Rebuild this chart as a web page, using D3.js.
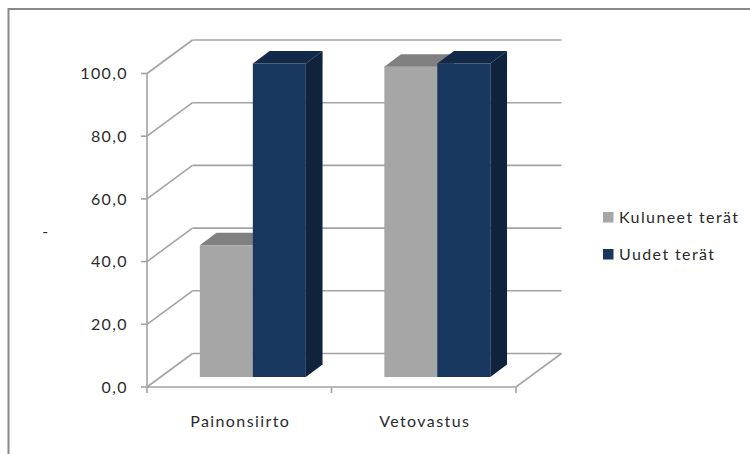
<!DOCTYPE html>
<html>
<head>
<meta charset="utf-8">
<script src="https://cdn.jsdelivr.net/npm/d3@7"></script>
<style>
  html, body { margin: 0; padding: 0; background: #fff; }
  svg { display: block; }
  text { font-family: Lato, "Open Sans", sans-serif; fill: #2b2b2b; font-size: 16px; letter-spacing: 1.4px; }
</style>
</head>
<body>
<svg id="chart" width="750" height="454"></svg>
<script>
// Chart data
const categories = ["Painonsiirto", "Vetovastus"];
const seriesNames = ["Kuluneet terät", "Uudet terät"];
const kuluneet = [42, 99];
const uudet = [100, 100];
const yTicks = [0, 20, 40, 60, 80, 100];

const seriesValues = [kuluneet, uudet];

// Colours per series: front, top, side faces
const palette = [
  { front: "#a6a6a6", top: "#808080", side: "#7a7a7a" },
  { front: "#17375e", top: "#12294a", side: "#10233d" }
];

const svg = d3.select("#chart");

// Outer frame
svg.append("path")
  .attr("d", "M8.5,454 L8.5,9 L750,9")
  .attr("fill", "none")
  .attr("stroke", "#888")
  .attr("stroke-width", 2);

// 3D projection: depth offset of the back wall
const DX = 45.5, DY = 33.5;
const x0 = 147, x1 = 516;

const y = d3.scaleLinear().domain([0, 100]).range([387, 73.5]);
const x = d3.scaleBand().domain(categories).range([x0, x1]);
const groupWidth = 106;
const xs = d3.scaleBand().domain(d3.range(seriesNames.length)).range([0, groupWidth]);

const gridColor = "#a3a3a3";
const g = svg.append("g");

// Back wall gridlines
g.selectAll("line.grid").data(yTicks).join("line")
  .attr("class", "grid")
  .attr("x1", x0 + DX).attr("x2", x1 + DX)
  .attr("y1", d => y(d) - DY).attr("y2", d => y(d) - DY)
  .attr("stroke", gridColor).attr("stroke-width", 1.6);

// Side wall diagonals
g.selectAll("line.side").data(yTicks).join("line")
  .attr("class", "side")
  .attr("x1", x0).attr("x2", x0 + DX)
  .attr("y1", d => y(d)).attr("y2", d => y(d) - DY)
  .attr("stroke", gridColor).attr("stroke-width", 1.6);

// Floor: front edge and right diagonal
g.append("path")
  .attr("d", `M${x0},${y(0)} L${x1},${y(0)} L${x1 + DX},${y(0) - DY}`)
  .attr("fill", "none").attr("stroke", gridColor).attr("stroke-width", 1.6);

// Value axis line and ticks
g.append("line")
  .attr("x1", x0).attr("x2", x0).attr("y1", y(100)).attr("y2", y(0))
  .attr("stroke", gridColor).attr("stroke-width", 1.6);
g.selectAll("line.ytick").data(yTicks).join("line")
  .attr("class", "ytick")
  .attr("x1", x0 - 6).attr("x2", x0)
  .attr("y1", d => y(d)).attr("y2", d => y(d))
  .attr("stroke", gridColor).attr("stroke-width", 1.6);

// Category ticks
const catTicks = [x0].concat(categories.map(c => x(c) + x.bandwidth()));
g.selectAll("line.xtick").data(catTicks).join("line")
  .attr("class", "xtick")
  .attr("x1", d => d).attr("x2", d => d)
  .attr("y1", y(0)).attr("y2", y(0) + 6)
  .attr("stroke", gridColor).attr("stroke-width", 1.6);

// Value labels
const fmt = v => d3.format(".1f")(v).replace(".", ",");
g.selectAll("text.ylab").data(yTicks).join("text")
  .attr("class", "ylab")
  .attr("x", 128).attr("y", d => y(d))
  .attr("dy", "0.35em")
  .attr("text-anchor", "end")
  .text(fmt);

// Value axis title
g.append("text")
  .attr("x", 46).attr("y", 231).attr("dy", "0.35em")
  .attr("text-anchor", "middle")
  .text("-");

// Category labels
g.selectAll("text.xlab").data(categories).join("text")
  .attr("class", "xlab")
  .attr("x", d => x(d) + x.bandwidth() / 2 + 1)
  .attr("y", 421).attr("dy", "0.35em")
  .attr("text-anchor", "middle")
  .text(d => d);

// Bars: front face sits partway into the depth
const t0 = 10 / DY;          // front of bar, as depth fraction
const bdx = 16.7, bdy = 12.5; // bar depth
const offX = t0 * DX, offY = t0 * DY;

const bars = [];
categories.forEach((c, ci) => {
  seriesValues.forEach((vals, si) => {
    bars.push({ cat: c, si, value: vals[ci] });
  });
});

const barG = g.append("g");
bars.forEach(b => {
  const left = x(b.cat) + x.bandwidth() / 2 - groupWidth / 2 + xs(b.si) + offX;
  const right = left + xs.bandwidth();
  const top = y(b.value) - offY;
  const bottom = y(0) - offY;
  const col = palette[b.si];
  const bg = barG.append("g");
  bg.append("rect")
    .attr("x", left).attr("y", top)
    .attr("width", right - left).attr("height", bottom - top)
    .attr("fill", col.front);
  bg.append("path")
    .attr("d", `M${left},${top} L${right},${top} L${right + bdx},${top - bdy} L${left + bdx},${top - bdy} Z`)
    .attr("fill", col.top);
  bg.append("path")
    .attr("d", `M${right},${top} L${right + bdx},${top - bdy} L${right + bdx},${bottom - bdy} L${right},${bottom} Z`)
    .attr("fill", col.side);
});

// Legend
const legend = svg.append("g").attr("transform", "translate(603,212)");
seriesNames.forEach((name, i) => {
  const row = legend.append("g").attr("transform", `translate(0,${i * 37})`);
  row.append("rect").attr("width", 10.5).attr("height", 10.5).attr("fill", palette[i].front);
  row.append("text")
    .attr("x", 16).attr("y", 5.5).attr("dy", "0.35em")
    .text(name);
});
</script>
</body>
</html>
